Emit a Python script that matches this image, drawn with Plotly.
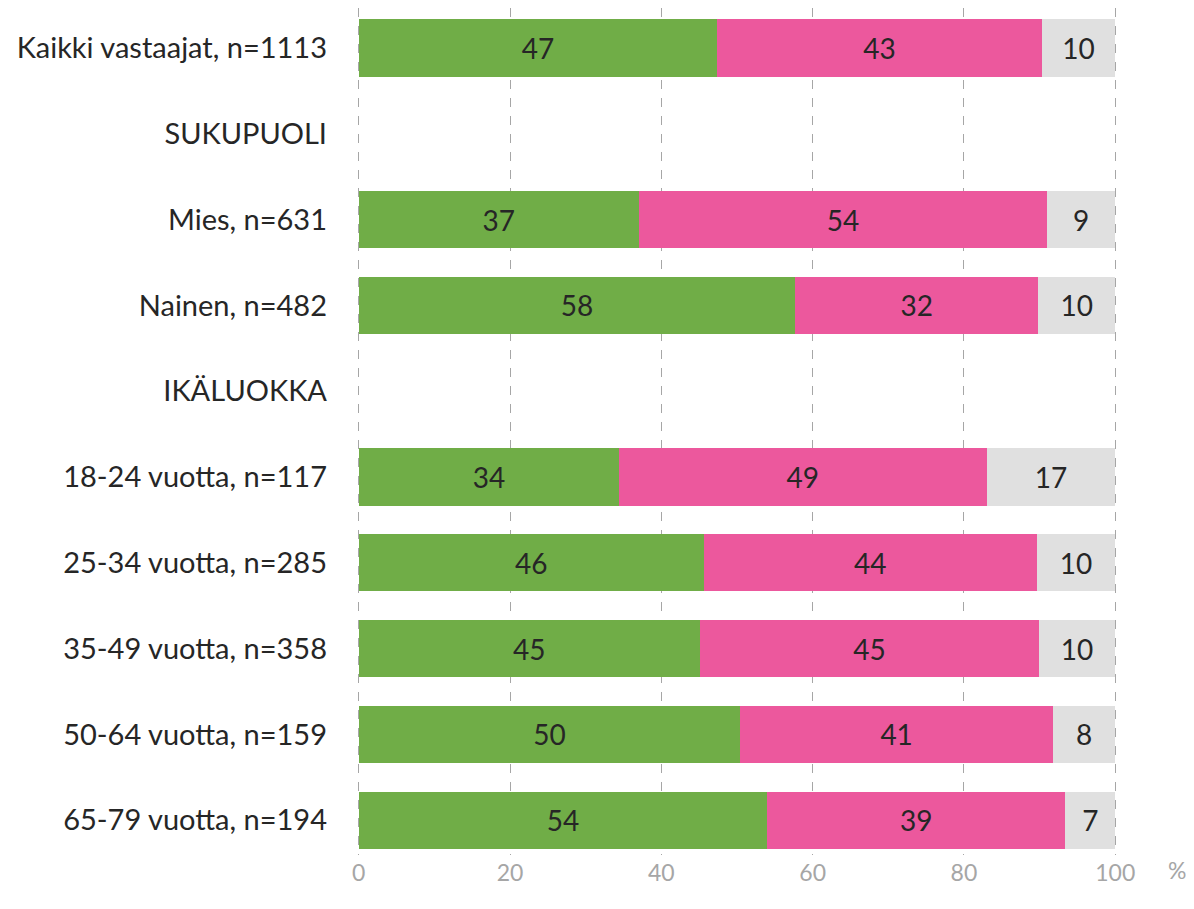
import plotly.graph_objects as go

categories = ["Kaikki vastaajat, n=1113", "SUKUPUOLI", "Mies, n=631", "Nainen, n=482",
              "IKÄLUOKKA", "18-24 vuotta, n=117", "25-34 vuotta, n=285",
              "35-49 vuotta, n=358", "50-64 vuotta, n=159", "65-79 vuotta, n=194"]
green_vals = [47.4, None, 37.0, 57.7, None, 34.4, 45.6, 45.1, 50.4, 54.0]
pink_vals = [42.9, None, 54.0, 32.1, None, 48.6, 44.0, 44.8, 41.4, 39.4]
gray_vals = [9.7, None, 9.0, 10.2, None, 17.0, 10.4, 10.1, 8.2, 6.6]
green_labels = ["47", "", "37", "58", "", "34", "46", "45", "50", "54"]
pink_labels = ["43", "", "54", "32", "", "49", "44", "45", "41", "39"]
gray_labels = ["10", "", "9", "10", "", "17", "10", "10", "8", "7"]
x_ticks = [0, 20, 40, 60, 80, 100]

FONT = "Lato"
fig = go.Figure()
for vals, labels, color in [(green_vals, green_labels, "#70AD47"),
                            (pink_vals, pink_labels, "#EC589D"),
                            (gray_vals, gray_labels, "#E0E0E0")]:
    fig.add_trace(go.Bar(
        y=categories, x=vals, orientation="h", text=labels,
        textposition="inside", insidetextanchor="middle", textangle=0,
        textfont=dict(family=FONT, size=28, color="#262626"),
        marker=dict(color=color, line=dict(width=0)),
        hoverinfo="skip", showlegend=False, cliponaxis=False,
    ))

fig.update_layout(
    barmode="stack", bargap=0.335,
    width=1194, height=909,
    margin=dict(l=347, r=83, t=0, b=62, autoexpand=False),
    plot_bgcolor="white", paper_bgcolor="white",
    font=dict(family=FONT),
    uniformtext=dict(mode=False),
)
fig.update_xaxes(
    range=[-0.5, 100.5], tickvals=x_ticks, ticktext=[str(t) for t in x_ticks],
    showgrid=True, gridcolor="#A6A6A6", griddash="dash", gridwidth=1,
    zeroline=False, showline=False, ticks="", automargin=False,
    tickfont=dict(family=FONT, size=23, color="#A6A6A6"),
    ticklabelstandoff=2,
)
fig.update_yaxes(
    categoryorder="array", categoryarray=categories, range=[9.406, -0.466],
    showgrid=False, zeroline=False, showline=False, ticks="", automargin=False,
    tickfont=dict(family=FONT, size=29, color="#262626"),
    ticklabelstandoff=27,
)
fig.add_annotation(text="%", xref="paper", yref="paper", x=1.09, y=0,
                   yanchor="middle", yshift=-15, showarrow=False,
                   font=dict(family=FONT, size=23, color="#A6A6A6"))

fig.write_html("out.html")
